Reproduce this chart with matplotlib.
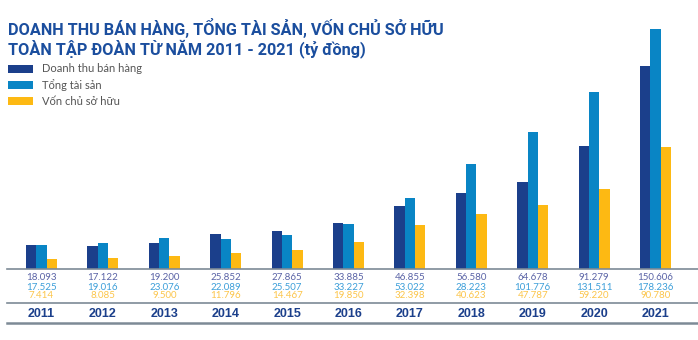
import matplotlib.pyplot as plt
from matplotlib.lines import Line2D
from matplotlib.patches import Rectangle
from matplotlib import transforms
import numpy as np

# data (ty dong)
years = ['2011', '2012', '2013', '2014', '2015', '2016', '2017', '2018', '2019', '2020', '2021']
doanh_thu = [18.093, 17.122, 19.200, 25.852, 27.865, 33.885, 46.855, 56.580, 64.678, 91.279, 150.606]
# bar for 2018 is drawn at ~78 although its label reads 28.223
tong_tai_san = [17.525, 19.016, 23.076, 22.089, 25.507, 33.227, 53.022, 78.223, 101.776, 131.511, 178.236]
von_csh = [7.414, 8.085, 9.500, 11.796, 14.467, 19.850, 32.398, 40.623, 47.787, 59.220, 90.780]

dt_labels = ['18.093', '17.122', '19.200', '25.852', '27.865', '33.885', '46.855', '56.580', '64.678', '91.279', '150.606']
ts_labels = ['17.525', '19.016', '23.076', '22.089', '25.507', '33.227', '53.022', '28.223', '101.776', '131.511', '178.236']
vcsh_labels = ['7.414', '8.085', '9.500', '11.796', '14.467', '19.850', '32.398', '40.623', '47.787', '59.220', '90.780']

series_names = ['Doanh thu bán hàng', 'Tổng tài sản', 'Vốn chủ sở hữu']
bar_colors = ['#1b3f8b', '#0985c5', '#fdb913']
label_colors = ['#5a63a6', '#3d9fd9', '#fcc54a']

W, H = 698, 340
fig = plt.figure(figsize=(W / 100, H / 100), dpi=100)

# axes: baseline at y=269px, 1 unit ~ 1.347 px
base_px = 269
scale = 1.347
ax = fig.add_axes([0, (H - base_px) / H, 1, base_px / H])
ax.set_ylim(0, base_px / scale)
step, c0 = 61.4, 41.5
ax.set_xlim(-c0 / step, (W - c0) / step)
ax.axis('off')

x = np.arange(len(years))
bw = 10.3 / step
for i, (vals, col) in enumerate(zip([doanh_thu, tong_tai_san, von_csh], bar_colors)):
    ax.bar(x + (i - 1) * bw, vals, width=bw, color=col, linewidth=0)

# table under the bars
tr = transforms.blended_transform_factory(ax.transData, fig.transFigure)
rows = [dt_labels, ts_labels, vcsh_labels]
row_y = [277, 287, 296]
for labs, col, py in zip(rows, label_colors, row_y):
    for xi, lab in zip(x, labs):
        ax.text(xi, 1 - py / H, lab, transform=tr, ha='center', va='center',
                fontsize=7, family='Lato', color=col, clip_on=False)
for xi, yr in zip(x, years):
    ax.text(xi, 1 - 314 / H, yr, transform=tr, ha='center', va='center',
            fontsize=9, family='Liberation Sans', fontweight='bold', color='#1b3f8b', clip_on=False)

line_col = '#7d8a96'
for py, lw in [(269, 1.2), (303, 1.2), (323, 1.8)]:
    fig.add_artist(Line2D([7 / W, 1], [1 - py / H] * 2, color=line_col, lw=lw))

# title
fig.text(8 / W, 1 - 38 / H,
         'DOANH THU BÁN HÀNG, TỔNG TÀI SẢN, VỐN CHỦ SỞ HỮU\nTOÀN TẬP ĐOÀN TỪ NĂM 2011 - 2021 (tỷ đồng)',
         fontsize=11.7, fontweight='bold', family='Roboto', color='#1b4e9e',
         va='center', linespacing=1.05)

# legend
for name, col, py in zip(series_names, bar_colors, [69, 85, 101]):
    fig.add_artist(Rectangle((8 / W, 1 - (py + 3.5) / H), 25 / W, 7 / H,
                             transform=fig.transFigure, color=col, lw=0))
    fig.text(42 / W, 1 - py / H, name, fontsize=8, family='Lato', color='#555555', va='center')

fig.savefig('out.png', dpi=100)
